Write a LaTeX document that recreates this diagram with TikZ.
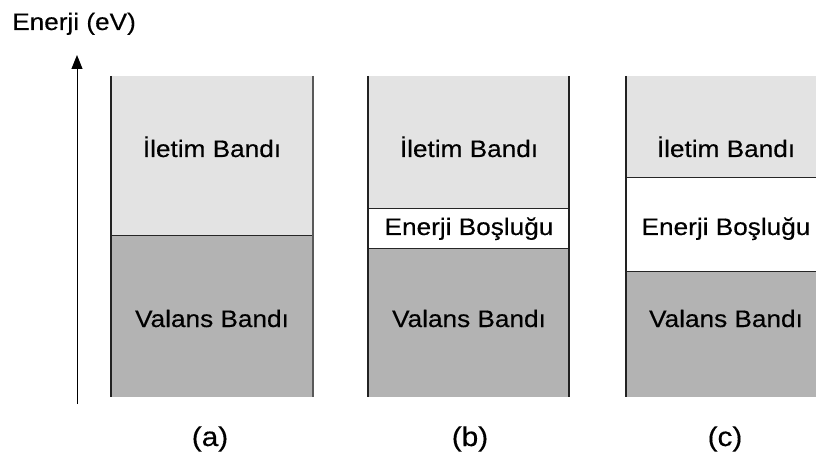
\documentclass[tikz,border=0pt]{standalone}
\usepackage{fontspec}
\setmainfont{Liberation Sans}
\newfontfamily\widefont[FakeStretch=1.1, FakeBold=0.4]{Liberation Sans}
\usetikzlibrary{arrows.meta}
\definecolor{condgray}{HTML}{E3E3E3}
\definecolor{valgray}{HTML}{B3B3B3}
\definecolor{edgegray}{HTML}{222222}
\tikzset{
  bandtxt/.style={font=\widefont\fontsize{23.8}{26}\selectfont, inner sep=0pt, anchor=base},
  captxt/.style={font=\widefont\fontsize{27}{30}\selectfont, inner sep=0pt, anchor=base},
  sideline/.style={draw=edgegray, line width=1.5pt},
  divline/.style={draw=black!85, line width=1pt},
}
\begin{document}
\begin{tikzpicture}[x=1pt, y=-1pt]
\useasboundingbox (0,0) rectangle (816,454);
\clip (0,0) rectangle (816,454);
% axis label
\node[bandtxt, anchor=base west] (axlabel) at (12,30) {Enerji (eV)};
% arrow
\coordinate (arrbot) at (77,404);
\coordinate (arrtop) at (77,55);
\draw[line width=1pt, -{Triangle[length=14pt,width=11pt]}] (arrbot) -- (arrtop);
% (a)
\fill[condgray] (111,76) rectangle (313,236);
\fill[valgray] (111,236) rectangle (313,397);
\draw[divline] (111,236) -- (313,236);
\draw[sideline] (111,76) -- (111,397);
\draw[sideline, draw=black!65] (313,76) -- (313,397);
\node[bandtxt] (acond) at (212,157) {İletim Bandı};
\node[bandtxt] (aval) at (212,327) {Valans Bandı};
\node[captxt] (acap) at (210,446) {(a)};
% (b)
\fill[condgray] (368,76) rectangle (569,209);
\fill[white] (368,209) rectangle (569,249);
\fill[valgray] (368,249) rectangle (569,397);
\draw[divline] (368,209) -- (569,209);
\draw[divline] (368,249) -- (569,249);
\draw[sideline] (368,76) -- (368,397);
\draw[sideline] (569,76) -- (569,397);
\node[bandtxt] (bcond) at (469,157) {İletim Bandı};
\node[bandtxt] (bgap) at (469,235) {Enerji Boşluğu};
\node[bandtxt] (bval) at (469,327) {Valans Bandı};
\node[captxt] (bcap) at (470,446) {(b)};
% (c)
\fill[condgray] (626,76) rectangle (830,178);
\fill[white] (626,178) rectangle (830,272);
\fill[valgray] (626,272) rectangle (830,397);
\draw[divline] (626,178) -- (830,178);
\draw[divline] (626,272) -- (830,272);
\draw[sideline] (626,76) -- (626,397);
\node[bandtxt] (ccond) at (726,157) {İletim Bandı};
\node[bandtxt] (cgap) at (726,235) {Enerji Boşluğu};
\node[bandtxt] (cval) at (726,327) {Valans Bandı};
\node[captxt] (ccap) at (725,446) {(c)};
\end{tikzpicture}
\end{document}
